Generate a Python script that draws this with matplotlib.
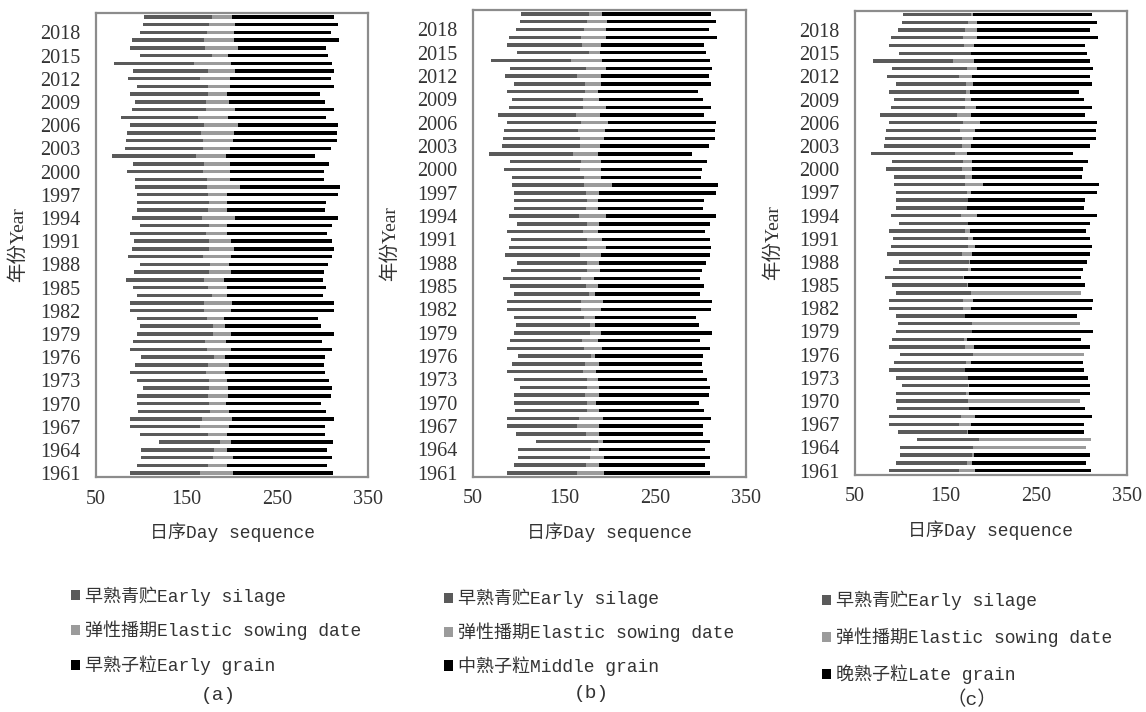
import matplotlib
matplotlib.use("Agg")
import matplotlib.pyplot as plt
import numpy as np

years = list(range(1961, 2021))

start = [88, 95, 100, 100, 119, 98, 88, 88, 96, 95,
         95, 102, 95, 88, 93, 100, 88, 91, 95, 98,
         95, 88, 88, 95, 91, 83, 92, 99, 85, 90,
         92, 88, 99, 90, 95, 95, 95, 93, 93, 84,
         91, 68, 82, 83, 84, 88, 78, 90, 93, 88,
         95, 85, 91, 70, 99, 88, 90, 98, 102, 103]

silage_end = [165, 174, 179, 180, 187, 174, 165, 167, 176, 175,
              173, 175, 175, 171, 173, 180, 172, 170, 179, 179,
              172, 169, 169, 178, 174, 169, 175, 176, 168, 175,
              175, 171, 175, 167, 174, 175, 174, 172, 172, 168,
              169, 160, 168, 168, 166, 169, 163, 171, 171, 173,
              173, 165, 174, 158, 178, 170, 169, 172, 175, 178]

season_end = [311, 305, 310, 305, 311, 303, 303, 312, 304, 298,
              309, 310, 307, 303, 302, 303, 310, 299, 313, 298,
              295, 312, 313, 300, 304, 300, 302, 306, 310, 312,
              310, 305, 310, 317, 303, 304, 317, 319, 301, 302,
              307, 291, 309, 316, 316, 317, 304, 312, 303, 297,
              312, 309, 313, 310, 306, 304, 318, 309, 317, 312]

elastic_end_a = [201, 195, 201, 195, 199, 195, 197, 200, 197, 193,
                 196, 196, 194, 192, 197, 192, 199, 193, 199, 192,
                 191, 199, 200, 194, 194, 191, 199, 197, 199, 202,
                 199, 194, 194, 203, 194, 195, 195, 209, 198, 198,
                 198, 193, 198, 201, 202, 207, 196, 203, 197, 194,
                 198, 198, 203, 199, 196, 207, 202, 202, 203, 200]

elastic_end_b = [194, 189, 194, 189, 193, 189, 189, 193, 189, 185,
                 189, 189, 188, 185, 189, 184, 192, 187, 191, 184,
                 184, 191, 193, 184, 187, 183, 190, 189, 191, 196,
                 192, 188, 189, 196, 187, 187, 189, 203, 191, 191,
                 191, 187, 190, 194, 195, 199, 190, 196, 189, 188,
                 191, 191, 196, 192, 190, 191, 196, 196, 197, 192]

elastic_end_c = [183, 179, 181, 305, 311, 175, 178, 182, 176, 298,
                 176, 176, 175, 172, 178, 303, 181, 174, 179, 298,
                 172, 178, 180, 300, 175, 170, 178, 177, 179, 183,
                 180, 177, 175, 185, 174, 175, 178, 191, 179, 179,
                 179, 174, 178, 180, 182, 188, 178, 184, 178, 177,
                 180, 179, 185, 181, 178, 181, 185, 185, 185, 180]

labels_common = ["早熟青贮Early silage", "弹性播期Elastic sowing date"]
grain_labels = ["早熟子粒Early grain", "中熟子粒Middle grain", "晚熟子粒Late grain"]
panel_tags = ["(a)", "(b)", "（c）"]
x_ticks = [50, 150, 250, 350]

c_silage = "#5a5a5a"
c_elastic = "#9b9b9b"
c_grain = "#000000"
c_frame = "#8c8c8c"

serif = ["Liberation Serif", "Noto Sans CJK SC"]
mono = ["Liberation Mono", "Noto Sans CJK SC"]

fig = plt.figure(figsize=(11.46, 7.12), dpi=100)

axes_pos = [
    [96 / 1146, 1 - 477 / 712, 272 / 1146, 464 / 712],
    [472.7 / 1146, 1 - 476.7 / 712, 273.3 / 1146, 466.7 / 712],
    [855 / 1146, 1 - 474.5 / 712, 271.7 / 1146, 463.8 / 712],
]
ylabel_x = [-0.254, -0.27, -0.268]
legend_anchor = [(71 / 1146, 1 - 586 / 712), (444 / 1146, 1 - 589 / 712), (822 / 1146, 1 - 591 / 712)]
legend_spacing = [0.84, 0.78, 0.95]
tag_pos = [(218 / 1146, 1 - 695 / 712), (591 / 1146, 1 - 693 / 712), (972 / 1146, 1 - 700 / 712)]

elastic_ends = [elastic_end_a, elastic_end_b, elastic_end_c]

s = np.array(start, dtype=float)
d = np.array(silage_end, dtype=float)
e = np.array(season_end, dtype=float)
ypos = np.arange(len(years))

for i in range(3):
    ax = fig.add_axes(axes_pos[i])
    el = np.array(elastic_ends[i], dtype=float)
    h = 0.44
    b1 = ax.barh(ypos, d - s, left=s, height=h, color=c_silage, linewidth=0)
    b2 = ax.barh(ypos, el - d, left=d, height=h, color=c_elastic, linewidth=0)
    b3 = ax.barh(ypos, e - el, left=el, height=h, color=c_grain, linewidth=0)
    ax.set_xlim(50, 350)
    ax.set_ylim(-0.5, len(years) - 0.5)
    ax.set_xticks(x_ticks)
    ax.set_xticklabels([str(t) for t in x_ticks], fontfamily=serif, fontsize=14.5)
    ax.set_yticks(ypos[::3])
    ax.set_yticklabels([str(y) for y in years[::3]], fontfamily=serif, fontsize=14.5)
    ax.tick_params(axis="both", length=0, colors="#333333")
    ax.tick_params(axis="y", pad=11)
    ax.tick_params(axis="x", pad=9)
    for sp in ax.spines.values():
        sp.set_color(c_frame)
        sp.set_linewidth(1.6)
    ax.set_xlabel("日序Day sequence", fontfamily=mono, fontsize=13, color="#333333", labelpad=10)
    ax.set_ylabel("年份Year", fontfamily=serif, fontsize=14, color="#333333")
    ax.yaxis.set_label_coords(ylabel_x[i], 0.5)
    leg = ax.legend([b1, b2, b3], labels_common + [grain_labels[i]],
                    loc="upper left", bbox_to_anchor=legend_anchor[i],
                    bbox_transform=fig.transFigure, frameon=False,
                    prop={"family": mono, "size": 13},
                    handlelength=0.5, handleheight=0.5, handletextpad=0.3,
                    labelspacing=legend_spacing[i], borderpad=0, borderaxespad=0)
    for t in leg.get_texts():
        t.set_color("#333333")
    fig.text(tag_pos[i][0], tag_pos[i][1], panel_tags[i], ha="center", va="center",
             fontfamily=mono, fontsize=14, color="#333333")

fig.savefig("out.png", dpi=100)
